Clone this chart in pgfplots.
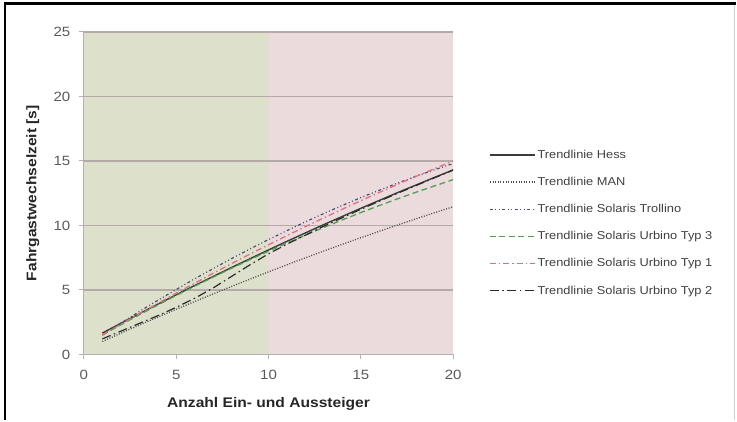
\documentclass[border=0pt]{standalone}
\usepackage{pgfplots}
\pgfplotsset{compat=1.18}
\usepackage{fontspec}
\setmainfont{Liberation Sans}[FakeStretch=1.12]
\definecolor{bggreen}{RGB}{221,225,204}
\definecolor{bgpink}{RGB}{235,219,221}
\definecolor{gridc}{RGB}{182,170,168}
\definecolor{tickc}{RGB}{90,90,90}
\definecolor{hessc}{RGB}{60,60,60}
\definecolor{manc}{RGB}{80,80,80}
\definecolor{trolc}{RGB}{70,80,120}
\definecolor{typdrei}{RGB}{80,160,80}
\definecolor{typeins}{RGB}{230,110,130}
\definecolor{typzwei}{RGB}{40,45,40}
\begin{document}
\begin{tikzpicture}[x=1bp,y=1bp]
\path (0,0) rectangle (737,421);
\draw[black, line width=2.5bp] (5,0) -- (5,417.3) -- (737,417.3);
\draw[gray!35, line width=1bp] (735.5,0) -- (735.5,416);
\begin{axis}[
  set layers,
  at={(84bp,66bp)}, anchor=south west,
  scale only axis, width=370bp, height=323bp,
  xmin=0, xmax=20, ymin=0, ymax=25,
  xtick={0,5,10,15,20}, ytick={0,5,10,15,20,25},
  axis x line=bottom, axis y line=left,
  axis line style={-, draw=gray!60, line width=1bp},
  tick align=outside, major tick length=5bp,
  tick style={draw=gray!60, line width=1bp},
  ymajorgrids, major grid style={gridc, line width=1.4bp},
  tick label style={font=\fontsize{13.5}{15}\selectfont, text=tickc},
  /pgf/number format/assume math mode=true,
  xticklabel style={yshift=-7bp},
  yticklabel style={xshift=-5bp},
  xlabel={Anzahl Ein- und Aussteiger},
  ylabel={Fahrgastwechselzeit [s]},
  label style={font=\bfseries\fontsize{14}{16}\selectfont, text=black!85},
  xlabel style={at={(axis description cs:0.5,-0.155)}, anchor=center},
  ylabel style={at={(axis description cs:-0.138,0.5)}, anchor=center},
  legend style={at={(axis description cs:1.097,0.408)}, anchor=west, draw=none, fill=none,
    font=\fontsize{11.5}{13}\selectfont, text=black!75, row sep=13.4bp, inner sep=0pt,
    /tikz/every even column/.append style={column sep=3bp}},
  legend cell align=left,
  legend image code/.code={\draw[#1] (0bp,0bp) -- (45bp,0bp);},
]
\addplot[draw=none, fill=bggreen, on layer=axis background, forget plot]
  coordinates {(0,0) (0,25) (10,25) (10,0)} -- cycle;
\addplot[draw=none, fill=bgpink, on layer=axis background, forget plot]
  coordinates {(10,0) (10,25) (20,25) (20,0)} -- cycle;

\addplot[hessc, line width=1.4bp] coordinates {
 (1,1.65) (2,2.41) (3,3.15) (4,3.89) (5,4.62) (6,5.34) (7,6.04) (8,6.74) (9,7.42) (10,8.10)
 (11,8.77) (12,9.42) (13,10.07) (14,10.70) (15,11.33) (16,11.94) (17,12.55) (18,13.14) (19,13.73) (20,14.30)};
\addlegendentry{Trendlinie Hess}
\addplot[manc, line width=1.3bp, dash pattern=on 1bp off 1.6bp] coordinates {
 (1,1.00) (2,1.64) (3,2.27) (4,2.89) (5,3.50) (6,4.10) (7,4.69) (8,5.27) (9,5.84) (10,6.40)
 (11,6.95) (12,7.49) (13,8.02) (14,8.54) (15,9.05) (16,9.55) (17,10.04) (18,10.52) (19,10.99) (20,11.45)};
\addlegendentry{Trendlinie MAN}
\addplot[trolc, line width=1.2bp, dash pattern=on 3bp off 2.5bp on 1bp off 2.5bp on 1bp off 2.5bp] coordinates {
 (1,1.50) (2,2.42) (3,3.32) (4,4.19) (5,5.03) (6,5.86) (7,6.65) (8,7.43) (9,8.18) (10,8.90)
 (11,9.60) (12,10.28) (13,10.93) (14,11.55) (15,12.16) (16,12.73) (17,13.29) (18,13.82) (19,14.32) (20,14.80)};
\addlegendentry{Trendlinie Solaris Trollino}
\addplot[typdrei, line width=1.3bp, dash pattern=on 6bp off 3.5bp] coordinates {
 (1,1.50) (2,2.29) (3,3.07) (4,3.83) (5,4.57) (6,5.29) (7,5.99) (8,6.68) (9,7.35) (10,8.00)
 (11,8.63) (12,9.25) (13,9.85) (14,10.43) (15,11.00) (16,11.54) (17,12.07) (18,12.58) (19,13.07) (20,13.55)};
\addlegendentry{Trendlinie Solaris Urbino Typ 3}
\addplot[typeins, line width=1.3bp, dash pattern=on 6bp off 3bp on 1.5bp off 3bp] coordinates {
 (1,1.50) (2,2.33) (3,3.15) (4,3.95) (5,4.75) (6,5.52) (7,6.29) (8,7.04) (9,7.78) (10,8.50)
 (11,9.21) (12,9.91) (13,10.59) (14,11.26) (15,11.92) (16,12.56) (17,13.19) (18,13.81) (19,14.41) (20,15.00)};
\addlegendentry{Trendlinie Solaris Urbino Typ 1}
\addplot[typzwei, line width=1.2bp, dash pattern=on 9bp off 3.5bp on 1.5bp off 3.5bp] coordinates {
 (1,1.20) (2,1.80) (3,2.40) (4,3.00) (5,3.65) (6,4.35) (7,5.15) (8,6.05) (9,6.95) (10,7.80)
 (11,8.55) (12,9.25) (13,9.95) (14,10.60) (15,11.25) (16,11.88) (17,12.50) (18,13.10) (19,13.70) (20,14.30)};
\addlegendentry{Trendlinie Solaris Urbino Typ 2}
\end{axis}
\end{tikzpicture}
\end{document}
